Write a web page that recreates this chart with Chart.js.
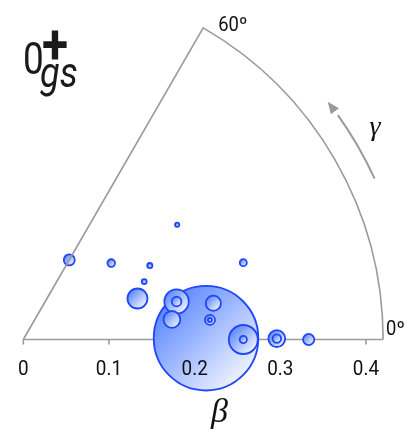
<!DOCTYPE html>
<html>
<head>
<meta charset="utf-8">
<script src="https://cdn.jsdelivr.net/npm/chart.js@4.4.0/dist/chart.umd.min.js"></script>
<style>
  html, body { margin: 0; padding: 0; background: #fff; }
  canvas { display: block; }
</style>
</head>
<body>
<canvas id="ch" width="415" height="445"></canvas>
<script>
// deformation points (beta, gamma in degrees) and bubble weight, largest first
const beta   = [0.2133, 0.2568, 0.1843, 0.1416, 0.175, 0.2959, 0.2258, 0.3331, 0.1073, 0.2191, 0.1843, 0.2959, 0.136, 0.2568, 0.272, 0.171, 0.1565, 0.224, 0.2191];
const gamma  = [0.4,    0,      13.9,   19.75,  7.7,   0.2,    10.8,   0,      60,     6.0,    13.9,   0.2,    41,    0,      19.25, 30.3,  25.6,   36.7,  6.0];
const weight = [52.3,   14.5,   12.2,   10,     8.4,   8.4,    7.6,    5.6,    5.5,    5.0,    4.8,    4.3,    3.8,   3.6,    3.5,   2.6,   2.5,    2.1,   2.0];

const betaTicks = [0, 0.1, 0.2, 0.3, 0.4];
const betaMax = 0.42;
const gammaMax = 60;
const arrowBeta = 0.451;

const rad = d => d * Math.PI / 180;

const points = beta.map((b, i) => ({
    x: b * Math.cos(rad(gamma[i])),
    y: b * Math.sin(rad(gamma[i])),
    r: weight[i]
}));

let bubbleFill = ctx => {
    const chart = ctx.chart;
    const p = ctx.raw;
    if (!chart.chartArea || !p || !chart.scales.x) return '#9db8ff';
    const px = chart.scales.x.getPixelForValue(p.x);
    const py = chart.scales.y.getPixelForValue(p.y);
    const g = chart.ctx.createLinearGradient(px - p.r, py - p.r, px + p.r, py + p.r);
    g.addColorStop(0.15, 'rgb(95,138,255)');
    g.addColorStop(0.85, 'rgb(236,241,255)');
    return g;
};

let scaledText = (ctx, txt, x, y, sx, sy = 1) => {
    ctx.save();
    ctx.translate(x, y);
    ctx.scale(sx, sy);
    ctx.fillText(txt, 0, 0);
    ctx.restore();
};

const sector = {
    id: 'sector',
    beforeDatasetsDraw(chart) {
        const { ctx, scales: { x, y } } = chart;
        const ox = x.getPixelForValue(0), oy = y.getPixelForValue(0);
        const R = x.getPixelForValue(betaMax) - ox;
        ctx.save();
        ctx.strokeStyle = '#9a9a9a';
        ctx.lineWidth = 1.6;
        // beta axis and its ticks
        ctx.beginPath();
        ctx.moveTo(ox, oy);
        ctx.lineTo(ox + R, oy);
        ctx.stroke();
        betaTicks.forEach(t => {
            const px = x.getPixelForValue(t);
            ctx.beginPath();
            ctx.moveTo(px, oy);
            ctx.lineTo(px, oy + 5);
            ctx.stroke();
        });
        // gamma arrow
        const R2 = x.getPixelForValue(arrowBeta) - ox;
        ctx.lineWidth = 2;
        ctx.beginPath();
        ctx.arc(ox, oy, R2, -rad(24.6), -rad(35.5), true);
        ctx.stroke();
        const th = rad(38);
        const tx = ox + R2 * Math.cos(th), ty = oy - R2 * Math.sin(th);
        const dx = -Math.sin(rad(36.5)), dy = -Math.cos(rad(36.5));
        ctx.fillStyle = '#9a9a9a';
        ctx.beginPath();
        ctx.moveTo(tx, ty);
        ctx.lineTo(tx - dx * 12 - dy * 5, ty - dy * 12 + dx * 5);
        ctx.lineTo(tx - dx * 12 + dy * 5, ty - dy * 12 - dx * 5);
        ctx.closePath();
        ctx.fill();
        ctx.restore();
    },
    afterDatasetsDraw(chart) {
        const { ctx, scales: { x, y } } = chart;
        const ox = x.getPixelForValue(0), oy = y.getPixelForValue(0);
        const R = x.getPixelForValue(betaMax) - ox;
        ctx.save();
        ctx.strokeStyle = '#9a9a9a';
        ctx.lineWidth = 1.6;
        ctx.beginPath();
        ctx.moveTo(ox, oy);
        ctx.lineTo(ox + R * Math.cos(rad(gammaMax)), oy - R * Math.sin(rad(gammaMax)));
        ctx.arc(ox, oy, R, -rad(gammaMax), 0, false);
        ctx.stroke();

        ctx.fillStyle = '#111';
        ctx.textAlign = 'center';
        ctx.textBaseline = 'alphabetic';
        ctx.font = '21px Roboto';
        betaTicks.forEach(t => {
            scaledText(ctx, String(t), x.getPixelForValue(t), oy + 35.5, 0.9);
        });
        ctx.textAlign = 'left';
        ctx.font = '20px Roboto';
        scaledText(ctx, gammaMax + 'º', ox + R * Math.cos(rad(gammaMax)) + 15, 30.5, 0.92);
        scaledText(ctx, '0º', ox + R + 3, 335, 0.92);

        ctx.font = 'italic 34px "Liberation Serif"';
        ctx.textAlign = 'center';
        ctx.fillText('β', x.getPixelForValue(0.229), 422);
        ctx.font = 'italic 28px "Liberation Serif"';
        ctx.fillText('γ', 375, 135);

        // state label
        ctx.fillStyle = '#1a1a1a';
        ctx.textAlign = 'left';
        ctx.font = '44px Roboto';
        scaledText(ctx, '0', 23, 74, 0.84);
        ctx.font = 'italic 42px Roboto';
        scaledText(ctx, 'gs', 40, 87, 0.86);
        ctx.font = 'bold 52px Roboto';
        ctx.textAlign = 'center';
        scaledText(ctx, '+', 55, 62.5, 0.92, 1.05);
        ctx.restore();
    }
};

let bubbles = new Chart('ch', {
    type: 'bubble',
    data: {
        datasets: [{
            data: points,
            backgroundColor: bubbleFill,
            borderColor: '#1f45ff',
            borderWidth: 1.8,
            clip: false
        }]
    },
    options: {
        responsive: false,
        animation: false,
        events: [],
        layout: { autoPadding: false, padding: { left: 23.3, right: 31.9, top: 27.9, bottom: 105.5 } },
        scales: {
            x: { type: 'linear', min: 0, max: betaMax, display: false },
            y: { type: 'linear', min: 0, max: betaMax * Math.sin(rad(gammaMax)), display: false }
        },
        plugins: { legend: { display: false }, tooltip: { enabled: false } }
    },
    plugins: [sector]
});
</script>
</body>
</html>
